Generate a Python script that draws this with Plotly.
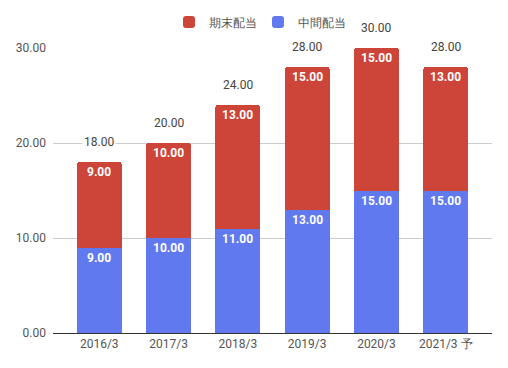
import plotly.graph_objects as go

categories = ["2016/3", "2017/3", "2018/3", "2019/3", "2020/3", "2021/3 予"]
interim = [9, 10, 11, 13, 15, 15]      # 中間配当
year_end = [9, 10, 13, 15, 15, 13]     # 期末配当
totals = [a + b for a, b in zip(interim, year_end)]
y_ticks = [0, 10, 20, 30]
y_ticklabels = ["0.00", "10.00", "20.00", "30.00"]

BLUE = "#6079ef"
RED = "#cc4538"
FONT = "Roboto, Arial, sans-serif"

# page body has an 8px default margin; figure is sized/offset to compensate
W, H = 500, 360

fig = go.Figure()
fig.add_trace(go.Bar(x=categories, y=interim, name="中間配当", marker_color=BLUE,
                     marker_line_width=0, width=0.65, hoverinfo="skip"))
fig.add_trace(go.Bar(x=categories, y=year_end, name="期末配当", marker_color=RED,
                     marker_line_width=0, width=0.65, hoverinfo="skip"))

ann = []
for c, a, b, t in zip(categories, interim, year_end, totals):
    ann.append(dict(x=c, y=a, text=f"<b>{a:.2f}</b>", showarrow=False, yshift=-10,
                    font=dict(color="white", size=12, family=FONT)))
    ann.append(dict(x=c, y=t, text=f"<b>{b:.2f}</b>", showarrow=False, yshift=-10,
                    font=dict(color="white", size=12, family=FONT)))
    ann.append(dict(x=c, y=t, text=f"{t:.2f}", showarrow=False, yshift=20,
                    bgcolor="white", borderpad=1,
                    font=dict(color="#444444", size=12, family=FONT)))

fig.update_layout(
    width=W, height=H,
    barmode="stack",
    barcornerradius=3,
    paper_bgcolor="white", plot_bgcolor="white",
    margin=dict(l=45, r=16, t=40, b=35, autoexpand=False),
    font=dict(family=FONT, size=12, color="#555555"),
    showlegend=True,
    legend=dict(orientation="h", x=(258 - 8) / W, xref="container", xanchor="center",
                y=1 - 14 / H, yref="container", yanchor="middle",
                traceorder="reversed", font=dict(size=12, color="#555555"),
                itemwidth=30, entrywidth=44),
    annotations=ann,
    xaxis=dict(range=[-0.667, 5.667], showgrid=False, ticks="", showline=True,
               linecolor="#333333", linewidth=1, tickfont=dict(size=12, color="#555555"),
               fixedrange=True, automargin=False),
    yaxis=dict(range=[0, 30], tickvals=y_ticks, ticktext=y_ticklabels,
               gridcolor="#cccccc", gridwidth=1, zeroline=False, showline=False,
               tickfont=dict(size=12, color="#555555"), ticklabelstandoff=6,
               fixedrange=True, automargin=False),
)

fig.write_html("out.html", config={"displayModeBar": False})
